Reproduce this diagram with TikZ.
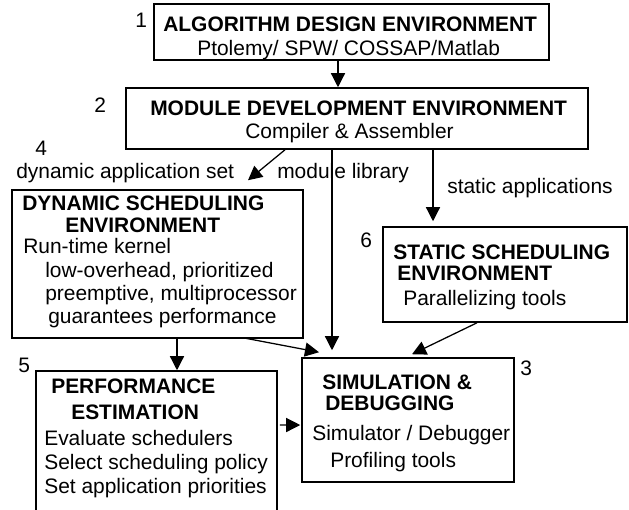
\documentclass[tikz,border=0pt]{standalone}
\usepackage{fontspec}
\setmainfont{Liberation Sans}
\usetikzlibrary{arrows.meta,fit,calc}

\begin{document}
\begin{tikzpicture}[x=0.025cm, y=-0.025cm,
    box/.style={draw, line width=1.1pt, inner sep=0pt},
    txt/.style={anchor=base west, inner sep=0pt, font=\fontsize{14.9}{17}\selectfont},
    head/.style={txt, font=\fontsize{14.9}{17}\selectfont\bfseries},
    arr/.style={line width=0.9pt, -{Triangle[length=10pt, width=10pt]}}
]
\useasboundingbox (0,0) rectangle (629,509);

\node[box, fit={(154,4) (549,60)}] (alg) {};
\node[box, fit={(126,88) (588,149)}] (mod) {};
\node[box, fit={(12,190) (303,338)}] (dse) {};
\node[box, fit={(383,227) (627,322)}] (sse) {};
\node[box, fit={(302,358) (514,482)}] (sim) {};
\node[box, fit={(36,371) (277,530)}] (pe) {};

\foreach \x/\y/\n in {135/27/1, 94/112/2, 520/375/3, 35/155/4, 18/372/5, 360/247/6} {
    \node[txt] (num\n) at (\x,\y) {\n};
}

\node[head] (algtitle) at (163,31.5) {ALGORITHM DESIGN ENVIRONMENT};
\node[txt] (algtools) at (197,55) {Ptolemy/ SPW/ COSSAP/Matlab};
\node[head] (modtitle) at (150,115) {MODULE DEVELOPMENT ENVIRONMENT};
\node[txt] (modtools) at (245,138) {Compiler \& Assembler};

\node[head] (dsetitle) at (22,210) {DYNAMIC SCHEDULING};
\node[head] (dsetitleb) at (65,232) {ENVIRONMENT};
\foreach \x/\y/\t [count=\i] in {23/253/Run-time kernel, 45/277/{low-overhead, prioritized},
    45/300/{preemptive, multiprocessor}, 48/323/guarantees performance} {
    \node[txt] (dse\i) at (\x,\y) {\t};
}

\node[head] (ssetitle) at (393,259) {STATIC SCHEDULING};
\node[head] (ssetitleb) at (397,280) {ENVIRONMENT};
\node[txt] (ssetools) at (403,305) {Parallelizing tools};

\node[head] (simtitle) at (322,389) {SIMULATION \&};
\node[head] (simtitleb) at (325,410) {DEBUGGING};
\node[txt] (simtools) at (312,440) {Simulator / Debugger};
\node[txt] (simprof) at (330,467) {Profiling tools};

\node[head] (petitle) at (51,393) {PERFORMANCE};
\node[head] (petitleb) at (71,419) {ESTIMATION};
\foreach \y/\t [count=\i] in {445/Evaluate schedulers, 469/Select scheduling policy, 493/Set application priorities} {
    \node[txt] (pe\i) at (44,\y) {\t};
}

\node[txt] (dynset) at (16,178) {dynamic application set};
\node[txt] (modlib) at (277,178) {module library};
\node[txt] (statapp) at (447,193) {static applications};

\draw[arr] ($(alg.south)+(-13.5,0)$) -- ($(mod.north)+(-19,0)$);
\draw[arr] ($(mod.south)+(-72,0)$) -- ($(dse.north)+(90.5,-9)$);
\draw[arr] ($(mod.south)+(-25,0)$) -- ($(sim.north)+(-76,-7)$);
\draw[arr] ($(mod.south)+(76,0)$) -- ($(sse.north)+(-72,-5)$);
\draw[arr] ($(dse.south)+(19.5,0)$) -- ($(pe.north)+(20.5,0)$);
\draw[arr] ($(dse.south)+(85.5,-1)$) -- ($(sim.north)+(-89,-5)$);
\draw[arr] ($(sse.south)+(-28,0)$) -- ($(sim.north)+(4,-3)$);
\draw[arr] ($(pe.east)+(2,-25.5)$) -- ($(sim.west)+(-1,5)$);
\end{tikzpicture}
\end{document}
